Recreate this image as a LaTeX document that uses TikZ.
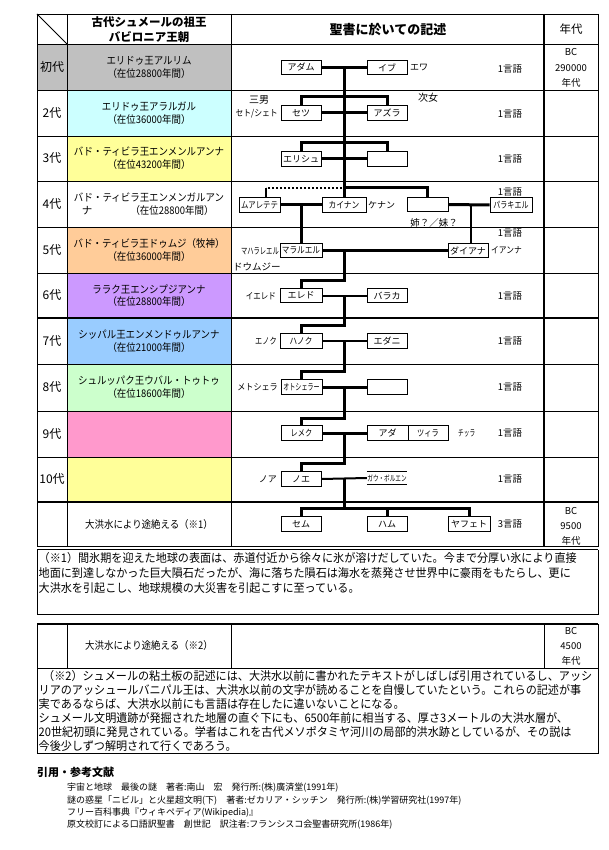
\documentclass[tikz,border=0pt]{standalone}
\usepackage{fontspec}
\setmainfont{Noto Sans CJK JP}
\definecolor{cgray}{HTML}{C0C0C0}
\definecolor{ccyan}{HTML}{CCFFFF}
\definecolor{cyell}{HTML}{FFFF99}
\definecolor{cpeach}{HTML}{FFCC99}
\definecolor{clav}{HTML}{CC99FF}
\definecolor{cblue}{HTML}{99CCFF}
\definecolor{cgreen}{HTML}{CCFFCC}
\definecolor{cpink}{HTML}{FF99CC}
\newcommand{\nar}[2]{\scalebox{#1}[1]{#2}}
\newcommand{\fs}[1]{\fontsize{#1}{#1}\selectfont}
\newcommand{\rw}[1]{\scalebox{0.9}[1]{#1}}
\newcommand{\nt}[1]{\scalebox{0.94}[1]{#1}}
\tikzset{
  gridl/.style={line width=0.8pt},
  gridthick/.style={line width=2pt},
  pbox/.style={draw, line width=0.8pt, minimum width=40pt, minimum height=14.5pt, inner sep=0pt, fill=white, font=\fs{9}},
  thk/.style={line width=3pt},
  med/.style={line width=2pt},
  dotl/.style={line width=2pt, dash pattern=on 2pt off 2pt},
  lbl/.style={inner sep=0pt, font=\fs{9}},
  rowtxt/.style={inner sep=0pt, font=\fs{10.5}},
  gen/.style={inner sep=0pt, font=\fs{12}},
  yr/.style={inner sep=0pt, font=\fs{9.5}},
  lang/.style={inner sep=0pt, font=\fs{9.5}},
  notetxt/.style={inner sep=0pt, anchor=west, font=\fs{11.8}},
  reftxt/.style={inner sep=0pt, anchor=west, font=\fs{9}},
}
\begin{document}
\begin{tikzpicture}[x=1pt,y=-1pt]
\useasboundingbox[fill=white] (0,0) rectangle (609,850);

% ---------- fills ----------
\fill[cgray] (37,44) rectangle (231,90);
\fill[ccyan] (67,90) rectangle (231,136);
\fill[cyell] (67,136) rectangle (231,181);
\fill[cpeach] (67,227) rectangle (231,273);
\fill[clav] (67,273) rectangle (231,318);
\fill[cblue] (67,318) rectangle (231,364);
\fill[cgreen] (67,364) rectangle (231,411);
\fill[cpink] (67,411) rectangle (231,457);
\fill[cyell] (67,457) rectangle (231,502);

% ---------- grid ----------
\foreach \yy in {14,44,90,136,181,227,273,364,411,457}
  \draw[gridl] (37,\yy) -- (598,\yy);
\draw[gridthick] (37,318) -- (598,318);
\draw[gridthick] (37,502) -- (598,502);
\draw[gridl] (37,546.5) -- (598,546.5);
\draw[gridl] (37,549.5) -- (598,549.5);
\foreach \xx in {37,67,231,598}
  \draw[gridl] (\xx,14) -- (\xx,546.5);
\draw[gridthick] (544,14) -- (544,546.5);
\draw[gridl] (37,14) -- (67,44);
% note 1 box
\draw[gridl] (37,549.5) -- (37,614) -- (598,614) -- (598,549.5);

% ---------- header ----------
\node[inner sep=0pt, font=\fs{11.5}\bfseries] (h1) at (149,22) {古代シュメールの祖王};
\node[inner sep=0pt, font=\fs{11.5}\bfseries] (h2) at (149,37.5) {バビロニア王朝};
\node[inner sep=0pt, font=\fs{13}\bfseries] (h3) at (388,29.5) {聖書に於いての記述};
\node[inner sep=0pt, font=\fs{11.5}] (h4) at (571,29.5) {年代};

% ---------- generation labels ----------
\node[gen] (g1) at (52,67) {初代};
\node[gen] (g2) at (52,113) {2代};
\node[gen] (g3) at (52,158.5) {3代};
\node[gen] (g4) at (52,204) {4代};
\node[gen] (g5) at (52,250) {5代};
\node[gen] (g6) at (52,295.5) {6代};
\node[gen] (g7) at (52,341) {7代};
\node[gen] (g8) at (52,387.5) {8代};
\node[gen] (g9) at (52,434) {9代};
\node[gen] (g10) at (52,479.5) {10代};

% ---------- king names ----------
\node[rowtxt] (k1a) at (149,60.5) {\rw{エリドゥ王アルリム}};
\node[rowtxt] (k1b) at (149,73.5) {\rw{（在位28800年間）}};
\node[rowtxt] (k2a) at (149,106.5) {\rw{エリドゥ王アラルガル}};
\node[rowtxt] (k2b) at (149,119.5) {\rw{（在位36000年間）}};
\node[rowtxt] (k3a) at (149,152) {\rw{バド・ティビラ王エンメンルアンナ}};
\node[rowtxt] (k3b) at (149,165) {\rw{（在位43200年間）}};
\node[rowtxt] (k4a) at (149,198) {\rw{バド・ティビラ王エンメンガルアン}};
\node[rowtxt] (k4c) at (87,211) {ナ};
\node[rowtxt] (k4b) at (172,211) {\rw{（在位28800年間）}};
\node[rowtxt] (k5a) at (149,243.5) {\rw{バド・ティビラ王ドゥムジ（牧神）}};
\node[rowtxt] (k5b) at (149,256.5) {\rw{（在位36000年間）}};
\node[rowtxt] (k6a) at (149,289) {\rw{ララク王エンシプジアンナ}};
\node[rowtxt] (k6b) at (149,302) {\rw{（在位28800年間）}};
\node[rowtxt] (k7a) at (149,335) {\rw{シッパル王エンメンドゥルアンナ}};
\node[rowtxt] (k7b) at (149,348) {\rw{（在位21000年間）}};
\node[rowtxt] (k8a) at (149,381) {\rw{シュルッパク王ウバル・トゥトゥ}};
\node[rowtxt] (k8b) at (149,394) {\rw{（在位18600年間）}};
\node[rowtxt] (fl1) at (149,524.5) {\rw{大洪水により途絶える（※1）}};

% ---------- years ----------
\node[yr] (y1a) at (571,52) {BC};
\node[yr] (y1b) at (571,68) {290000};
\node[yr] (y1c) at (571,83) {年代};
\node[yr] (y2a) at (571,511) {BC};
\node[yr] (y2b) at (571,526.5) {9500};
\node[yr] (y2c) at (571,541) {年代};

% ---------- family boxes ----------
\node[pbox] (adam) at (301,67.5) {アダム};
\node[pbox] (eve) at (387,67.5) {イブ};
\node[pbox] (setu) at (301,113) {セツ};
\node[pbox] (azura) at (387,113) {アズラ};
\node[pbox] (erishu) at (301,159) {エリシュ};
\node[pbox] (empA) at (387,159) {};
\node[pbox, minimum width=41pt] (muare) at (259.5,205) {\nar{0.82}{ムアレテテ}};
\node[pbox, minimum width=44pt] (kainan) at (344,205) {\nar{0.86}{カイナン}};
\node[pbox, minimum width=41pt] (sis) at (427.5,204.5) {};
\node[pbox, minimum width=42pt] (parak) at (511,205) {\nar{0.78}{パラキエル}};
\node[pbox, minimum width=42pt] (maral) at (301,250.5) {\nar{0.85}{マラルエル}};
\node[pbox] (daiana) at (468,250.5) {ダイアナ};
\node[pbox, minimum width=42pt] (ered) at (301,295.5) {エレド};
\node[pbox] (baraka) at (387,295.5) {バラカ};
\node[pbox, minimum width=42pt] (hanok) at (301,341) {\nar{0.85}{ハノク}};
\node[pbox] (edani) at (387,341) {エダニ};
\node[pbox, minimum width=41pt] (otosh) at (301.5,387) {\nar{0.67}{オトシェラー}};
\node[pbox] (empB) at (387,387) {};
\node[pbox, minimum width=41pt] (remek) at (301.5,433) {\nar{0.8}{レメク}};
\node[pbox, minimum width=41pt] (ada) at (387.5,433) {アダ};
\node[pbox] (tsira) at (428,433) {\nar{0.8}{ツィラ}};
\node[pbox] (noe) at (301,479) {ノエ};
\node[inner sep=0pt, minimum width=40pt, minimum height=12pt, font=\fs{8}] (gau) at (387,478) {\nar{0.7}{ガウ・ボルエン}};
\draw[line width=0.8pt] (gau.north west) -- (gau.north east);
\draw[line width=0.8pt] (gau.south west) -- (gau.south east);
\node[pbox] (semu) at (301,524) {セム};
\node[pbox] (hamu) at (387,524) {ハム};
\node[pbox, minimum width=42pt] (yafet) at (469,524) {ヤフェト};

% ---------- side labels ----------
\node[lbl, anchor=west] (ewa) at (410,67.5) {エワ};
\node[lbl, font=\fs{10}] (sannan) at (259,100) {三男};
\node[lbl, anchor=east] (seto) at (278,114) {\nar{0.87}{セト/シェト}};
\node[lbl, font=\fs{10}] (jijo) at (428,98) {次女};
\node[lbl, anchor=west] (kenan) at (368,205) {ケナン};
\node[lbl, font=\fs{9.5}] (anei) at (434,223) {姉？／妹？};
\node[lbl, anchor=east] (mahara) at (279,251) {\nar{0.7}{マハラレエル}};
\node[lbl, anchor=west] (ianna) at (491,250.5) {\nar{0.86}{イアンナ}};
\node[lbl, anchor=west, font=\fs{9.5}] (doumu) at (233,267) {ドウムジー};
\node[lbl, anchor=east] (iered) at (276,296) {\nar{0.83}{イエレド}};
\node[lbl, anchor=east] (enok) at (277,341) {\nar{0.8}{エノク}};
\node[lbl, anchor=east] (metos) at (278,387) {\nar{0.9}{メトシェラ}};
\node[lbl, anchor=west] (chira) at (458,433.5) {\nar{0.63}{チッラ}};
\node[lbl, anchor=east] (noa) at (277,479) {ノア};

% ---------- language counts ----------
\node[lang] (l1) at (510,69) {1言語};
\node[lang] (l2) at (510,114) {1言語};
\node[lang] (l3) at (510,159) {1言語};
\node[lang] (l4) at (510,192) {1言語};
\node[lang] (l5) at (510,233) {1言語};
\node[lang] (l6) at (510,296) {1言語};
\node[lang] (l7) at (510,341) {1言語};
\node[lang] (l8) at (510,387) {1言語};
\node[lang] (l9) at (510,433.5) {1言語};
\node[lang] (l10) at (510,479) {1言語};
\node[lang] (l11) at (510,524) {3言語};

% ---------- junction coordinates ----------
\coordinate (m1) at (344,67.5);
\coordinate (m2) at (344,113);
\coordinate (b2l) at (301,97);
\coordinate (b2r) at (387,97);
\coordinate (m3) at (344,159);
\coordinate (b3l) at (301,143);
\coordinate (b3r) at (387,143);
\coordinate (m4) at (344,188);
\coordinate (dl) at (266,188);
\coordinate (dlb) at (266,198);
\coordinate (dr) at (427.5,188);
\coordinate (v4l) at (301,205);
\coordinate (v4r) at (471,205);
\coordinate (v5r) at (471,243);
\coordinate (m5) at (344,250.5);
\coordinate (c5) at (344,280);
\coordinate (c5l) at (301,280);
\coordinate (m6) at (344,295.5);
\coordinate (c6) at (344,325);
\coordinate (c6l) at (301,325);
\coordinate (m7) at (344,341);
\coordinate (c7) at (344,371);
\coordinate (c7l) at (301.5,371);
\coordinate (m8) at (344,387);
\coordinate (c8) at (344,418);
\coordinate (c8l) at (301.5,418);
\coordinate (m9) at (344,433);
\coordinate (c9) at (344,463);
\coordinate (c9l) at (301,463);
\coordinate (m10) at (344,479);
\coordinate (c10) at (344,508);
\coordinate (c10l) at (301,508);
\coordinate (c10m) at (387,508);
\coordinate (c10r) at (469,508);

% ---------- connectors ----------
\draw[thk] (adam.east) -- (eve.west);
\draw[thk] (m1) -- (m2);
\draw[thk] (setu.north) -- (b2l) -- (b2r) -- (azura.north);
\draw[thk] (setu.east) -- (azura.west);
\draw[thk] (m2) -- (m3);
\draw[thk] (erishu.north) -- (b3l) -- (b3r) -- (empA.north);
\draw[thk] (erishu.east) -- (empA.west);
\draw[thk] (m3) -- (kainan.north);
\draw[dotl] (342,188) -- (dl);
\draw[med] (dl) -- (dlb);
\draw[thk] (m4) -- (dr) -- (sis.north);
\draw[thk] (muare.east) -- (kainan.west);
\draw[thk] (v4l) -- (maral.north);
\draw[thk] (sis.east) -- (parak.west);
\draw[med] (v4r) -- (v5r);
\draw[thk] (maral.east) -- (daiana.west);
\draw[thk] (m5) -- (c5) -- (c5l) -- (ered.north);
\draw[med] (ered.east) -- (baraka.west);
\draw[thk] (m6) -- (c6) -- (c6l) -- (hanok.north);
\draw[med] (hanok.east) -- (edani.west);
\draw[thk] (m7) -- (c7) -- (c7l) -- (otosh.north);
\draw[thk] (otosh.east) -- (empB.west);
\draw[thk] (m8) -- (c8) -- (c8l) -- (remek.north);
\draw[thk] (remek.east) -- (ada.west);
\draw[thk] (m9) -- (c9) -- (c9l) -- (noe.north);
\draw[med] (noe.east) -- (gau.west);
\draw[thk] (m10) -- (c10);
\draw[thk] (semu.north) -- (c10l) -- (c10r) -- (yafet.north);
\draw[thk] (c10m) -- (hamu.north);

% ---------- note 1 ----------
\node[notetxt] (n1a) at (38.5,558) {\nt{（※1）間氷期を迎えた地球の表面は、赤道付近から徐々に氷が溶けだしていた。今まで分厚い氷により直接}};
\node[notetxt] (n1b) at (38.5,573) {\nt{地面に到達しなかった巨大隕石だったが、海に落ちた隕石は海水を蒸発させ世界中に豪雨をもたらし、更に}};
\node[notetxt] (n1c) at (38.5,588) {\nt{大洪水を引起こし、地球規模の大災害を引起こすに至っている。}};

% ---------- table 2 ----------
\draw[line width=1.2pt] (37,624) -- (598,624);
\draw[gridl] (37,624) -- (37,753) -- (598,753) -- (598,624);
\draw[gridl] (37,668) -- (598,668);
\draw[gridl] (67,624) -- (67,668);
\draw[gridl] (231,624) -- (231,668);
\draw[gridl] (544,624) -- (544,668);
\node[rowtxt] (fl2) at (149,646) {\rw{大洪水により途絶える（※2）}};
\node[yr] (y3a) at (571,631) {BC};
\node[yr] (y3b) at (571,646) {4500};
\node[yr] (y3c) at (571,661) {年代};

% ---------- note 2 ----------
\node[notetxt] (n2a) at (43,676) {\nt{（※2）シュメールの粘土板の記述には、大洪水以前に書かれたテキストがしばしば引用されているし、アッシ}};
\node[notetxt] (n2b) at (38.5,690) {\nt{リアのアッシュールバニパル王は、大洪水以前の文字が読めることを自慢していたという。これらの記述が事}};
\node[notetxt] (n2c) at (38.5,704) {\nt{実であるならば、大洪水以前にも言語は存在したに違いないことになる。}};
\node[notetxt] (n2d) at (38.5,718) {\nt{シュメール文明遺跡が発掘された地層の直ぐ下にも、6500年前に相当する、厚さ3メートルの大洪水層が、}};
\node[notetxt] (n2e) at (38.5,732) {\nt{20世紀初頭に発見されている。学者はこれを古代メソポタミヤ河川の局部的洪水跡としているが、その説は}};
\node[notetxt] (n2f) at (38.5,746) {\nt{今後少しずつ解明されて行くであろう。}};

% ---------- references ----------
\node[inner sep=0pt, anchor=west, font=\fs{11}\bfseries] (rt) at (37,772) {引用・参考文献};
\node[reftxt] (r1) at (67,788) {宇宙と地球　最後の謎　著者:南山　宏　発行所:(株)廣済堂(1991年)};
\node[reftxt] (r2) at (67,801) {謎の惑星「ニビル」と火星超文明(下)　著者:ゼカリア・シッチン　発行所:(株)学習研究社(1997年)};
\node[reftxt] (r3) at (67,813) {フリー百科事典『ウィキペディア(Wikipedia)』};
\node[reftxt] (r4) at (67,825) {原文校訂による口語訳聖書　創世記　訳注者:フランシスコ会聖書研究所(1986年)};
\end{tikzpicture}
\end{document}
